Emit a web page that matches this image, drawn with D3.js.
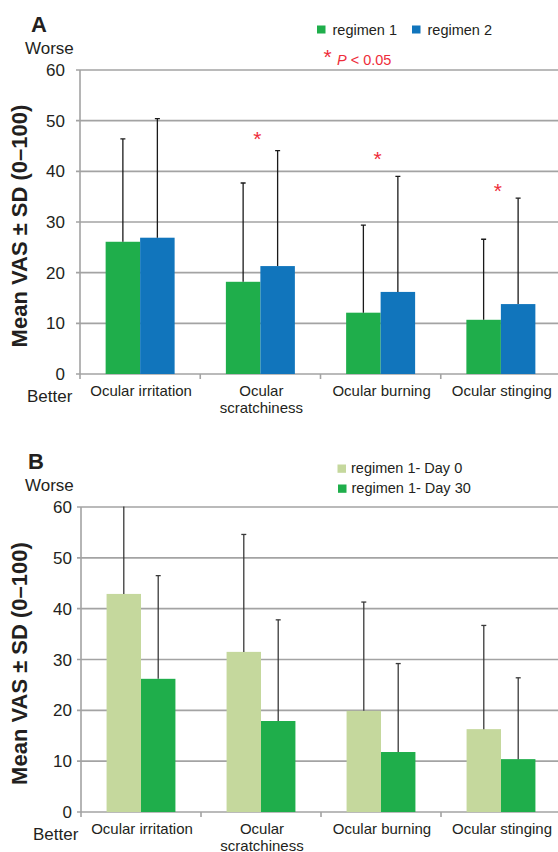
<!DOCTYPE html>
<html>
<head>
<meta charset="utf-8">
<script src="https://cdn.jsdelivr.net/npm/d3@7"></script>
<style>
  body { margin: 0; background: #fff; }
  svg text { font-family: "Liberation Sans", Arial, sans-serif; }
</style>
</head>
<body>
<div id="chart"></div>
<script>
// categories + values
var categories = ["Ocular irritation", "Ocular scratchiness", "Ocular burning", "Ocular stinging"];
var catLines = [["Ocular irritation"], ["Ocular", "scratchiness"], ["Ocular burning"], ["Ocular stinging"]];
var yTicks = [0, 10, 20, 30, 40, 50, 60];

// panel A
var regimen1 = [26.1, 18.2, 12.1, 10.7];
var regimen1SD = [20.3, 19.5, 17.3, 15.9];
var regimen2 = [26.9, 21.3, 16.2, 13.8];
var regimen2SD = [23.5, 22.8, 22.8, 20.9];
var starLevels = [null, 47.4, 43.5, 37.2];

// panel B
var day0 = [42.9, 31.5, 19.9, 16.3];
var day0SD = [18.0, 23.1, 21.4, 20.4];
var day30 = [26.2, 17.9, 11.8, 10.4];
var day30SD = [20.3, 19.9, 17.4, 16.0];

var width = 558, height = 852;

var svg = d3.select("#chart")
    .append("svg")
    .attr("width", width)
    .attr("height", height);

var defs = svg.append("defs");

function drawPanel(cfg) {
  var x0 = d3.scaleBand()
      .domain(categories)
      .range([cfg.left, 561])
      .padding(0);

  var x1 = d3.scaleBand()
      .domain([0, 1])
      .range([0, x0.bandwidth()])
      .paddingInner(0)
      .paddingOuter(0.743);

  var y = d3.scaleLinear()
      .domain([0, 60])
      .range([cfg.bottom, cfg.top]);

  var g = svg.append("g");

  // clip for error bars running off the top
  defs.append("clipPath").attr("id", "clip" + cfg.id)
    .append("rect")
    .attr("x", cfg.left).attr("y", cfg.top - 0.5)
    .attr("width", width).attr("height", cfg.bottom - cfg.top + 1);

  // gridlines
  g.selectAll(".grid")
    .data(yTicks.slice(1))
    .enter().append("line")
    .attr("x1", cfg.left - 4)
    .attr("x2", width)
    .attr("y1", function(d) { return y(d) })
    .attr("y2", function(d) { return y(d) })
    .attr("stroke", "#a3a3a3")
    .attr("stroke-width", 1.6);

  // base line + left axis
  g.append("line")
    .attr("x1", cfg.left - 4).attr("x2", width)
    .attr("y1", y(0)).attr("y2", y(0))
    .attr("stroke", "#a3a3a3").attr("stroke-width", 1.6);
  g.append("line")
    .attr("x1", cfg.left).attr("x2", cfg.left)
    .attr("y1", y(60)).attr("y2", y(0) + 5)
    .attr("stroke", "#a3a3a3").attr("stroke-width", 1.6);

  // category boundary ticks
  g.selectAll(".xtick")
    .data(categories.slice(1))
    .enter().append("line")
    .attr("x1", function(d) { return x0(d) })
    .attr("x2", function(d) { return x0(d) })
    .attr("y1", y(0))
    .attr("y2", y(0) + 5)
    .attr("stroke", "#a3a3a3").attr("stroke-width", 1.6);

  // y tick labels
  g.selectAll(".ylab")
    .data(yTicks)
    .enter().append("text")
    .attr("x", cfg.labelRight)
    .attr("y", function(d) { return y(d) + 6 })
    .attr("text-anchor", "end")
    .attr("font-size", 17)
    .attr("fill", "#231f20")
    .text(function(d) { return d });

  var series = [
    { vals: cfg.a, sd: cfg.aSD, color: cfg.colors[0] },
    { vals: cfg.b, sd: cfg.bSD, color: cfg.colors[1] }
  ];

  series.forEach(function(s, si) {
    var rows = categories.map(function(c, i) { return { cat: c, v: s.vals[i], sd: s.sd[i] } });

    g.selectAll(".bar" + si)
      .data(rows)
      .enter().append("rect")
      .attr("x", function(d) { return x0(d.cat) + x1(si) })
      .attr("width", x1.bandwidth())
      .attr("y", function(d) { return y(d.v) })
      .attr("height", function(d) { return y(0) - y(d.v) })
      .attr("fill", s.color);

    var eb = g.append("g").attr("clip-path", "url(#clip" + cfg.id + ")");
    eb.selectAll("line.stem")
      .data(rows)
      .enter().append("line")
      .attr("x1", function(d) { return x0(d.cat) + x1(si) + x1.bandwidth() / 2 })
      .attr("x2", function(d) { return x0(d.cat) + x1(si) + x1.bandwidth() / 2 })
      .attr("y1", function(d) { return y(d.v) })
      .attr("y2", function(d) { return y(d.v + d.sd) })
      .attr("stroke", cfg.errColor).attr("stroke-width", 1.3);
    eb.selectAll("line.cap")
      .data(rows.filter(function(d) { return d.v + d.sd < 60 }))
      .enter().append("line")
      .attr("x1", function(d) { return x0(d.cat) + x1(si) + x1.bandwidth() / 2 - 2.5 })
      .attr("x2", function(d) { return x0(d.cat) + x1(si) + x1.bandwidth() / 2 + 2.5 })
      .attr("y1", function(d) { return y(d.v + d.sd) })
      .attr("y2", function(d) { return y(d.v + d.sd) })
      .attr("stroke", cfg.errColor).attr("stroke-width", 1.3);
  });

  // category labels
  var cl = g.selectAll(".catlab")
    .data(categories)
    .enter().append("text")
    .attr("x", function(d) { return x0(d) + x0.bandwidth() / 2 + 1 })
    .attr("y", y(0) + 22)
    .attr("text-anchor", "middle")
    .attr("font-size", 15)
    .attr("fill", "#231f20");
  cl.selectAll("tspan")
    .data(function(d, i) { return catLines[i] })
    .enter().append("tspan")
    .attr("x", function() { return d3.select(this.parentNode).attr("x") })
    .attr("dy", function(d, i) { return i === 0 ? 0 : 16.5 })
    .text(function(d) { return d });

  // panel letter, Worse / Better
  g.append("text").attr("x", cfg.letterX).attr("y", cfg.top - 38)
    .attr("font-size", 22).attr("font-weight", "bold").attr("fill", "#231f20")
    .text(cfg.letter);
  g.append("text").attr("x", 25).attr("y", cfg.top - 16)
    .attr("font-size", 17).attr("fill", "#231f20").text("Worse");
  g.append("text").attr("x", cfg.betterX).attr("y", y(0) + 28)
    .attr("font-size", 17).attr("fill", "#231f20").text("Better");

  // y title
  g.append("text")
    .attr("transform", "translate(" + 27 + "," + ((cfg.top + cfg.bottom) / 2 + 4) + ") rotate(-90)")
    .attr("text-anchor", "middle")
    .attr("font-size", 22)
    .attr("font-weight", "bold")
    .attr("fill", "#231f20")
    .text("Mean VAS \u00b1 SD (0\u2013100)");

  return { x0: x0, y: y, g: g };
}

var colorsA = ["#1fae4b", "#1175bc"];
var colorsB = ["#c5d89d", "#1fae4b"];

var pa = drawPanel({ id: "A", letter: "A", letterX: 31, betterX: 27, top: 70, bottom: 374, left: 80, labelRight: 65,
  a: regimen1, aSD: regimen1SD, b: regimen2, bSD: regimen2SD, colors: colorsA, errColor: "#1a1a1a" });

var pb = drawPanel({ id: "B", letter: "B", letterX: 28, betterX: 33, top: 507, bottom: 812, left: 81, labelRight: 72,
  a: day0, aSD: day0SD, b: day30, bSD: day30SD, colors: colorsB, errColor: "#3a3a3a" });

// significance stars in A
pa.g.selectAll(".star")
  .data(categories.map(function(c, i) { return { cat: c, lv: starLevels[i] } }).filter(function(d) { return d.lv !== null }))
  .enter().append("text")
  .attr("x", function(d) { return pa.x0(d.cat) + pa.x0.bandwidth() / 2 - 3 })
  .attr("y", function(d) { return pa.y(d.lv) + 12 })
  .attr("text-anchor", "middle")
  .attr("font-size", 21)
  .attr("fill", "#ee2d3a")
  .text("*");

// legend A
var legA = svg.append("g");
[["regimen 1", colorsA[0], 317], ["regimen 2", colorsA[1], 412]].forEach(function(l) {
  legA.append("rect").attr("x", l[2]).attr("y", 25.5).attr("width", 8.5).attr("height", 8).attr("fill", l[1]);
  legA.append("text").attr("x", l[2] + 15.5).attr("y", 35).attr("font-size", 14.5).attr("fill", "#231f20").text(l[0]);
});
legA.append("text").attr("x", 327.7).attr("y", 64).attr("text-anchor", "middle")
  .attr("font-size", 21).attr("fill", "#ee2d3a").text("*");
var pt = legA.append("text").attr("x", 337).attr("y", 65).attr("font-size", 14.5).attr("fill", "#ee2d3a");
pt.append("tspan").attr("font-style", "italic").text("P");
pt.append("tspan").text(" < 0.05");

// legend B
var legB = svg.append("g");
[["regimen 1- Day 0", colorsB[0], 337.5, 464.5, 472.5], ["regimen 1- Day 30", colorsB[1], 338, 484.5, 493]].forEach(function(l) {
  legB.append("rect").attr("x", l[2]).attr("y", l[3]).attr("width", 8.5).attr("height", 8.3).attr("fill", l[1]);
  legB.append("text").attr("x", l[2] + 13.5).attr("y", l[4]).attr("font-size", 14.5).attr("fill", "#231f20").text(l[0]);
});
</script>
</body>
</html>
